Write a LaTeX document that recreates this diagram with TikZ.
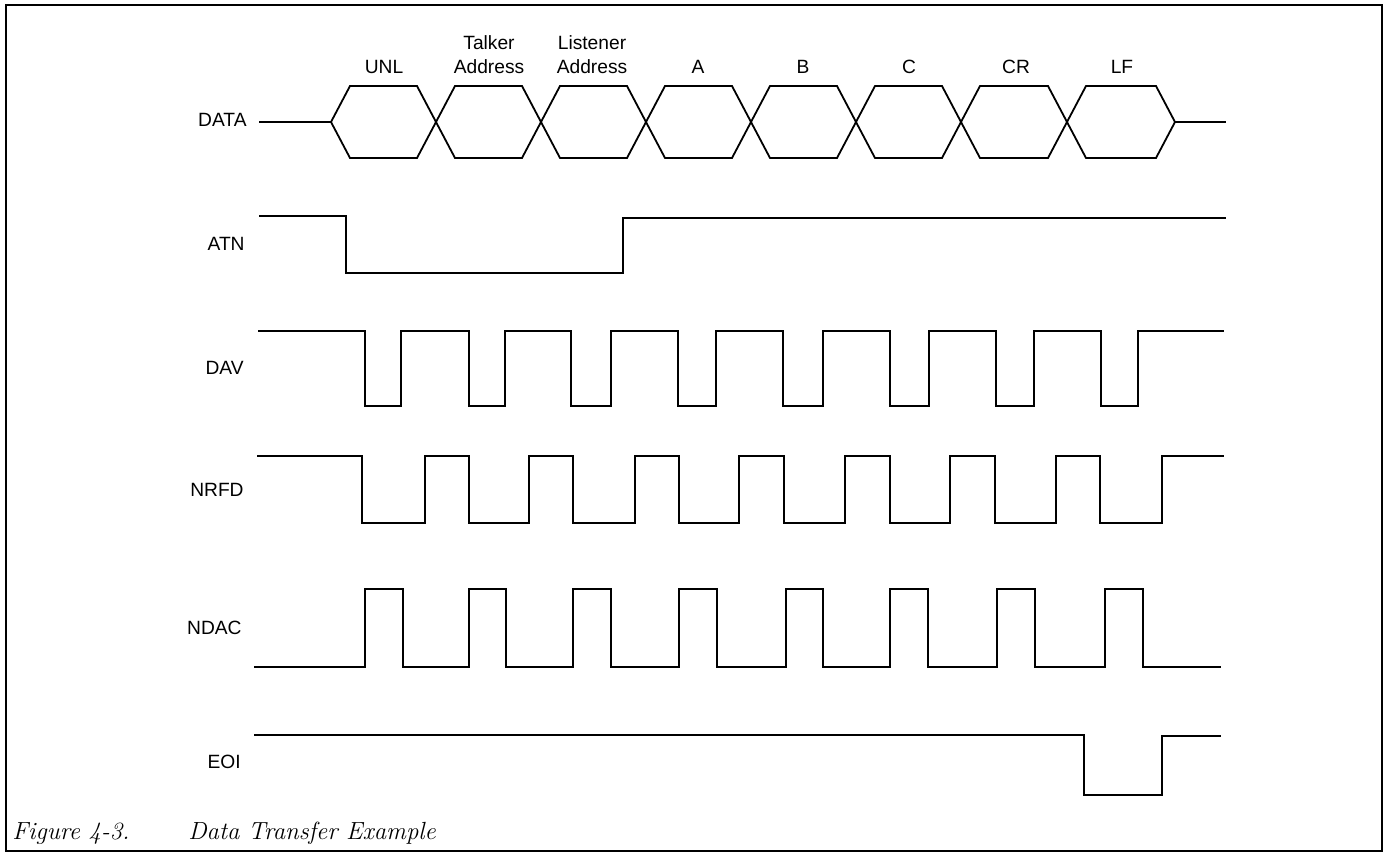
\documentclass[tikz,border=0pt]{standalone}
\usepackage{fontspec}
\usepackage{tikz}
\newfontfamily\sigfont{Liberation Sans}
\tikzstyle{sig}=[line width=0.9pt, line join=miter, black]
\tikzstyle{frame}=[line width=1pt, black]
\tikzstyle{slbl}=[font=\sigfont\fontsize{9.6}{12}\selectfont, anchor=east,
  inner sep=0pt]
\tikzstyle{hlbl}=[font=\sigfont\fontsize{9.6}{12}\selectfont, align=center,
  inner sep=0pt]
\tikzstyle{figcap}=[font=\itshape\fontsize{12.4}{14}\selectfont,
  anchor=base west, inner sep=0pt]

\begin{document}
\begin{tikzpicture}[x=0.5pt, y=-0.5pt]
  \useasboundingbox (0,0) rectangle (1389,856);
  \draw[frame] (6,5) rectangle (1382,851);

  % signal names
  \node[slbl] (data) at (247,120) {DATA};
  \node[slbl] (atn)  at (245,244) {ATN};
  \node[slbl] (dav)  at (244,368) {DAV};
  \node[slbl] (nrfd) at (244,490) {NRFD};
  \node[slbl] (ndac) at (242,628) {NDAC};
  \node[slbl] (eoi)  at (241,762) {EOI};

  % bytes on the bus
  \node[hlbl] (unl) at (384,67) {UNL};
  \node[hlbl] (tlk) at (489,55) {Talker\\Address};
  \node[hlbl] (lsn) at (592,55) {Listener\\Address};
  \node[hlbl] (ca)  at (698,67) {A};
  \node[hlbl] (cb)  at (803,67) {B};
  \node[hlbl] (cc)  at (909,67) {C};
  \node[hlbl] (ccr) at (1016,67) {CR};
  \node[hlbl] (clf) at (1122,67) {LF};

  % DATA
  \draw[sig] (259,122) -- (331,122);
  \draw[sig] (331,122) -- (350,86) -- (417,86) -- (436,122) -- (417,158) -- (350,158) -- cycle;
  \draw[sig] (436,122) -- (455,86) -- (522,86) -- (541,122) -- (522,158) -- (455,158) -- cycle;
  \draw[sig] (541,122) -- (560,86) -- (627,86) -- (646,122) -- (627,158) -- (560,158) -- cycle;
  \draw[sig] (646,122) -- (665,86) -- (732,86) -- (751,122) -- (732,158) -- (665,158) -- cycle;
  \draw[sig] (751,122) -- (770,86) -- (837,86) -- (856,122) -- (837,158) -- (770,158) -- cycle;
  \draw[sig] (856,122) -- (875,86) -- (942,86) -- (961,122) -- (942,158) -- (875,158) -- cycle;
  \draw[sig] (961,122) -- (980,86) -- (1048,86) -- (1067,122) -- (1048,158) -- (980,158) -- cycle;
  \draw[sig] (1067,122) -- (1086,86) -- (1156,86) -- (1175,122) -- (1156,158) -- (1086,158) -- cycle;
  \draw[sig] (1175,122) -- (1226,122);

  % ATN
  \draw[sig] (259,216) -| (346,273) -| (623,218) -- (1226,218);

  % DAV
  \draw[sig] (258,331) -| (365,406) -| (401,331) -| (469,406) -| (505,331)
    -| (571,406) -| (611,331) -| (678,406) -| (716,331) -| (783,406)
    -| (823,331) -| (890,406) -| (929,331) -| (996,406) -| (1034,331)
    -| (1101,406) -| (1138,331) -- (1224,331);

  % NRFD
  \draw[sig] (257,456) -| (362,523) -| (425,456) -| (469,523) -| (529,456)
    -| (573,523) -| (635,456) -| (679,523) -| (739,456) -| (784,523)
    -| (845,456) -| (890,523) -| (950,456) -| (995,523) -| (1056,456)
    -| (1100,523) -| (1162,456) -- (1224,456);

  % NDAC
  \draw[sig] (254,667) -| (365,589) -| (403,667) -| (469,589) -| (506,667)
    -| (573,589) -| (611,667) -| (679,589) -| (717,667) -| (786,589)
    -| (823,667) -| (890,589) -| (928,667) -| (997,589) -| (1035,667)
    -| (1105,589) -| (1143,667) -- (1221,667);

  % EOI
  \draw[sig] (254,735) -| (1084,795) -| (1162,736) -- (1221,736);

  % caption
  \node[figcap] (fig)   at (12,839)  {Figure 4-3.};
  \node[figcap] (title) at (188,839) {Data Transfer Example};
\end{tikzpicture}
\end{document}
